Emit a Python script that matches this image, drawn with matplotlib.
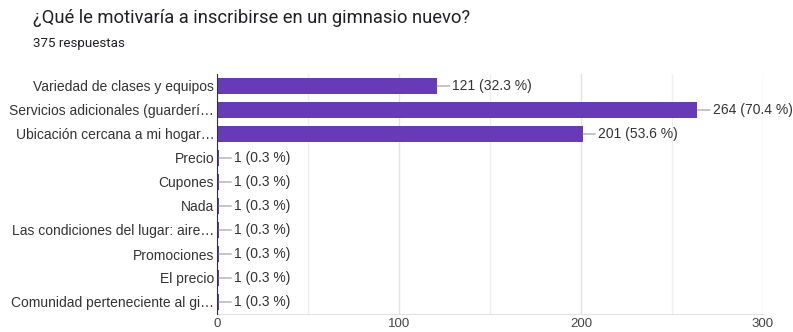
import matplotlib
matplotlib.use('Agg')
import matplotlib.pyplot as plt
from matplotlib.ticker import MultipleLocator

plt.rcParams['font.family'] = ['Liberation Sans', 'DejaVu Sans']

# datos de la encuesta
titulo = '¿Qué le motivaría a inscribirse en un gimnasio nuevo?'
subtitulo = '375 respuestas'
opciones = ['Variedad de clases y equipos',
            'Servicios adicionales (guarderí…',
            'Ubicación cercana a mi hogar…',
            'Precio',
            'Cupones',
            'Nada',
            'Las condiciones del lugar: aire…',
            'Promociones',
            'El precio',
            'Comunidad perteneciente al gi…']
respuestas = [121, 264, 201, 1, 1, 1, 1, 1, 1, 1]
porcentajes = ['32.3', '70.4', '53.6', '0.3', '0.3', '0.3', '0.3', '0.3', '0.3', '0.3']

morado = '#673AB7'

fig = plt.figure(figsize=(7.93, 3.32), dpi=100)
fig.text(33/793, 1 - 18/332, titulo, fontsize=13.2, color='#202124',
         family=['Roboto', 'DejaVu Sans'], va='center')
fig.text(33/793, 1 - 43/332, subtitulo, fontsize=9.6, color='#202124',
         family=['Roboto', 'DejaVu Sans'], va='center')

ax = fig.add_axes([217/793, 1 - 314/332, (763 - 217)/793, (314 - 74)/332])
pos = list(range(len(opciones)))
ax.barh(pos, respuestas, height=0.64, color=morado, zorder=3)
ax.set_ylim(len(opciones) - 0.5, -0.5)
ax.set_xlim(0, 300)
ax.set_yticks(pos)
ax.set_yticklabels(opciones, fontsize=10, color='#333333')
ax.xaxis.set_major_locator(MultipleLocator(100))
ax.xaxis.set_minor_locator(MultipleLocator(50))
ax.tick_params(axis='x', which='both', length=0, labelsize=9.5, labelcolor='#444444', pad=3)
ax.tick_params(axis='y', length=0, pad=2)
ax.grid(axis='x', which='major', color='#e3e3e3', lw=1, zorder=0)
ax.grid(axis='x', which='minor', color='#efefef', lw=1, zorder=0)
for s in ['top', 'right']:
    ax.spines[s].set_visible(False)
ax.spines['bottom'].set_color('#e3e3e3')
ax.spines['left'].set_color('#333333')
ax.spines['left'].set_zorder(4)

for i, (v, p) in enumerate(zip(respuestas, porcentajes)):
    ax.annotate(f'{v} ({p} %)', xy=(v, i), xytext=(11, 0), textcoords='offset points',
                va='center', ha='left', fontsize=10, color='#333333',
                arrowprops=dict(arrowstyle='-', color='#999999', lw=0.8,
                                shrinkA=0, shrinkB=0))

fig.savefig('out.png', dpi=100)
